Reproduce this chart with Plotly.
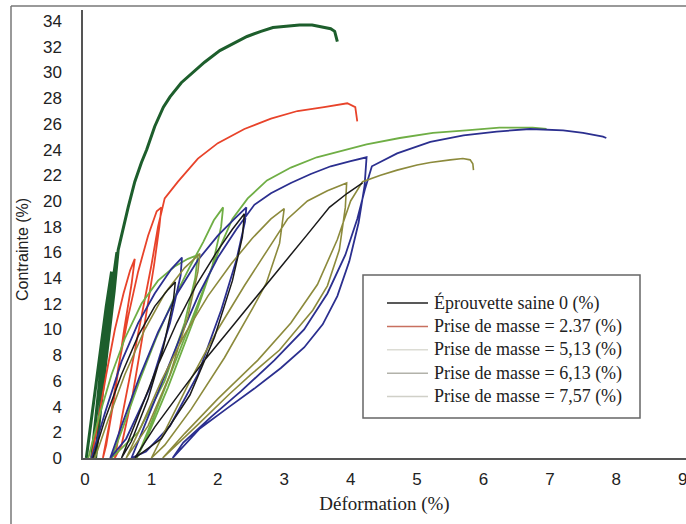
import plotly.graph_objects as go

# ---------------- data ----------------
legend_names = [
    "Éprouvette saine 0 (%)",
    "Prise de masse = 2.37 (%)",
    "Prise de masse = 5,13 (%)",
    "Prise de masse = 6,13 (%)",
    "Prise de masse = 7,57 (%)",
]
legend_colors = ["#222222", "#c8705f", "#dcdcd4", "#b2b2aa", "#d0d0c8"]

x_ticks = [0, 1, 2, 3, 4, 5, 6, 7, 8, 9]
y_ticks = [0, 2, 4, 6, 8, 10, 12, 14, 16, 18, 20, 22, 24, 26, 28, 30, 32, 34]

# dark green curve
g0_x = [0.02, 0.12, 0.22, 0.32, 0.40, 0.36, 0.28, 0.19, 0.10,
        0.16, 0.24, 0.33, 0.42, 0.48, 0.42, 0.34, 0.25, 0.16,
        0.21, 0.28, 0.36, 0.44, 0.50, 0.57, 0.65, 0.75, 0.85, 0.93, 1.05, 1.18,
        1.28, 1.45, 1.62, 1.80, 2.03, 2.25, 2.44, 2.65, 2.83, 3.03, 3.23, 3.42,
        3.58, 3.70, 3.76, 3.80]
g0_y = [0, 4, 8, 11.8, 14.5, 12, 8.5, 4.5, 0,
        3, 7, 10.5, 13.8, 16, 13, 9.5, 5, 0,
        2.5, 6, 9.5, 13, 16.2, 17.8, 19.5, 21.5, 23, 24, 25.8, 27.3,
        28.1, 29.2, 30, 30.8, 31.7, 32.3, 32.8, 33.2, 33.5, 33.6, 33.7, 33.7,
        33.5, 33.4, 33.2, 32.4]

# red curve (2.37 %)
r_x = [0.10, 0.20, 0.32, 0.45, 0.58, 0.68, 0.75, 0.70, 0.59, 0.45, 0.32, 0.27,
       0.38, 0.50, 0.65, 0.80, 0.95, 1.08, 1.15, 1.12, 1.04, 0.90, 0.72, 0.55, 0.45,
       0.55, 0.70, 0.86, 1.00, 1.10, 1.20, 1.40, 1.70, 2.00, 2.40, 2.80, 3.20, 3.60,
       3.95, 4.07, 4.10]
r_y = [0, 3, 6.5, 10, 12.8, 14.6, 15.5, 13.5, 10, 5, 1, 0,
       3, 7, 11, 14.5, 17.3, 19.2, 19.5, 18, 15, 10.5, 5, 1, 0,
       3, 7, 11.5, 15, 18, 20.2, 21.5, 23.3, 24.5, 25.6, 26.4, 27.0, 27.3,
       27.6, 27.3, 26.2]

# light green curve (5,13 %)
lg_x = [0.05, 0.20, 0.40, 0.60, 0.85, 1.10, 1.35, 1.55, 1.70,
        1.66, 1.50, 1.20, 0.80, 0.40,
        0.58, 0.82, 1.07, 1.32, 1.57, 1.78, 1.94, 2.08,
        2.05, 1.92, 1.62, 1.25, 0.95, 0.78,
        0.98, 1.25, 1.55, 1.85, 2.05, 2.22, 2.45, 2.74, 3.10, 3.49, 3.94, 4.24,
        4.74, 5.24, 5.74, 6.24, 6.74, 6.95]
lg_y = [0, 3, 6.5, 9.3, 12, 13.8, 14.9, 15.5, 15.8,
        14, 10.5, 6, 2, 0,
        2.5, 6, 9.3, 12.2, 14.8, 16.8, 18.5, 19.5,
        18, 15, 10.5, 5.5, 1.8, 0,
        2.5, 6, 10, 14, 16.6, 18.6, 20.2, 21.6, 22.6, 23.4, 24.0, 24.4,
        24.9, 25.3, 25.5, 25.7, 25.7, 25.6]

# blue curve (6,13 %)
b_x = [0.10, 0.30, 0.55, 0.80, 1.05, 1.30, 1.46,
       1.44, 1.28, 0.98, 0.62, 0.38,
       0.55, 0.82, 1.10, 1.40, 1.70, 2.00, 2.25, 2.43,
       2.41, 2.28, 2.05, 1.70, 1.28, 0.92, 0.70,
       0.90, 1.18, 1.45, 1.72, 2.00, 2.28, 2.55, 2.80, 3.10, 3.40, 3.70, 4.00, 4.24,
       4.21, 4.12, 3.98, 3.80, 3.58, 3.30, 2.95, 2.55, 2.15, 1.73, 1.32,
       1.48, 1.90, 2.35, 2.85, 3.30, 3.65, 3.92, 4.10, 4.22, 4.32, 4.70, 5.20, 5.70,
       6.20, 6.70, 7.20, 7.50, 7.80, 7.85]
b_y = [0, 3.5, 7.5, 10.5, 12.8, 14.7, 15.6,
       14.2, 10.5, 5.5, 1.5, 0,
       2.5, 6.3, 9.8, 12.9, 15.4, 17.3, 18.6, 19.5,
       18.4, 15.4, 11.5, 6.5, 2.5, 0.5, 0,
       2.6, 6.2, 9.6, 12.8, 15.6, 17.8, 19.7, 20.6, 21.4, 22.1, 22.7, 23.1, 23.4,
       21.2, 18.3, 15.3, 12.6, 10.4, 8.6, 7.0, 5.4, 3.9, 2.3, 0,
       1.2, 3.2, 5.2, 7.6, 10.0, 12.8, 15.8, 18.6, 21.0, 22.7, 23.7, 24.6, 25.1,
       25.4, 25.6, 25.5, 25.3, 25.0, 24.9]

# olive curve (7,57 %)
o_x = [0.15, 0.35, 0.60, 0.90, 1.20, 1.50, 1.73,
       1.70, 1.55, 1.28, 0.95, 0.62,
       0.85, 1.15, 1.50, 1.85, 2.20, 2.52, 2.80, 3.00,
       2.93, 2.73, 2.53, 2.10, 1.60, 1.20, 1.00,
       1.25, 1.60, 2.00, 2.40, 2.75, 3.05, 3.35, 3.65, 3.94,
       3.92, 3.83, 3.65, 3.43, 2.93, 2.50, 2.18, 1.70, 1.17,
       1.50, 2.00, 2.60, 3.10, 3.50, 3.80, 4.00, 4.18, 4.45, 4.70, 5.00,
       5.20, 5.50, 5.69, 5.80, 5.84, 5.85]
o_y = [0, 3, 6.5, 10, 12.8, 14.8, 15.9,
       14.5, 11, 6.5, 2.5, 0,
       2.5, 6, 9.6, 12.6, 15.1, 17.1, 18.6, 19.4,
       16.7, 13.6, 11.7, 7.8, 3.8, 1.0, 0,
       2.6, 6.2, 10, 13.4, 16.2, 18.6, 20.0, 20.8, 21.4,
       19.5, 16.2, 13.4, 11.5, 8.4, 6.5, 5.0, 2.6, 0,
       1.9, 4.6, 7.6, 10.5, 13.5, 17.0, 20.0, 21.5, 22.0, 22.4, 22.8,
       23.0, 23.2, 23.3, 23.2, 22.9, 22.4]

# black curve
k_x = [0.12, 0.30, 0.55, 0.80, 1.05, 1.25, 1.36,
       1.33, 1.18, 0.95, 0.70, 0.55,
       0.78, 1.08, 1.38, 1.68, 1.98, 2.22, 2.40,
       2.37, 2.22, 1.95, 1.58, 1.15, 0.75,
       1.05, 1.45, 1.80, 2.18, 2.60, 3.00, 3.35, 3.68, 3.95, 4.18]
k_y = [0, 3, 6.5, 9.5, 11.8, 13.1, 13.7,
       12.2, 8.6, 4.6, 1.3, 0,
       3, 7, 10.5, 13.5, 16, 17.8, 19.0,
       17.2, 13.8, 9.4, 4.9, 1.5, 0,
       2.4, 5.2, 7.6, 10.0, 12.7, 15.2, 17.4, 19.5, 20.6, 21.4]

# ---------------- figure ----------------
W, H = 686, 524
L, R, T, B = 83, 0, 10, 66
pw, ph = W - L - R, H - T - B


def px_x(p):
    return (p - L) / pw


def px_y(p):
    return (H - B - p) / ph


fig = go.Figure()

curves = [
    (g0_x, g0_y, "#1d5e2c", 3.0),
    (r_x, r_y, "#e8432a", 1.8),
    (lg_x, lg_y, "#6fae45", 1.8),
    (b_x, b_y, "#2b2f8f", 1.8),
    (o_x, o_y, "#8c8a3c", 1.6),
    (k_x, k_y, "#1a1a1a", 1.5),
]
for xs, ys, col, w in curves:
    fig.add_trace(go.Scatter(x=xs, y=ys, mode="lines", showlegend=False,
                             line=dict(color=col, width=w), hoverinfo="skip"))

serif = "Liberation Serif, Times New Roman, serif"
sans = "Liberation Sans, Arial, sans-serif"

shapes = [
    # legend box
    dict(type="rect", xref="paper", yref="paper",
         x0=px_x(363), x1=px_x(640), y0=px_y(418), y1=px_y(275),
         line=dict(color="#666", width=1.5), fillcolor="rgba(0,0,0,0)"),
    # scan frame lines
    dict(type="line", xref="paper", yref="paper",
         x0=px_x(11), x1=px_x(686), y0=px_y(6), y1=px_y(6),
         line=dict(color="#777", width=1.5)),
    dict(type="line", xref="paper", yref="paper",
         x0=px_x(11), x1=px_x(11), y0=px_y(6), y1=px_y(524),
         line=dict(color="#777", width=1.5)),
]
annotations = [
    dict(text="Contrainte (%)", xref="paper", yref="paper",
         x=px_x(22), y=px_y(250), xanchor="center", yanchor="middle",
         textangle=-90, showarrow=False,
         font=dict(family=sans, size=16, color="#222")),
]

# legend entries (line sample + label)
leg_y0, leg_dy = 303, 23.4
for i, (name, col) in enumerate(zip(legend_names, legend_colors)):
    yy = px_y(leg_y0 + i * leg_dy)
    shapes.append(dict(type="line", xref="paper", yref="paper",
                       x0=px_x(387), x1=px_x(428), y0=yy, y1=yy,
                       line=dict(color=col, width=1.5)))
    annotations.append(dict(text=name, xref="paper", yref="paper",
                            x=px_x(432), y=yy, xanchor="left", yanchor="middle",
                            showarrow=False,
                            font=dict(family=serif, size=18, color="#222")))

fig.update_layout(
    width=W, height=H,
    margin=dict(l=L, r=R, t=T, b=B, pad=0),
    paper_bgcolor="white", plot_bgcolor="white",
    showlegend=False,
    xaxis=dict(
        range=[-0.03, 9.05], tickvals=x_ticks, ticktext=[str(v) for v in x_ticks],
        showgrid=False, zeroline=False, showline=True, linecolor="#555", linewidth=2,
        ticks="", ticklabelstandoff=5, ticklabeloverflow="allow",
        tickfont=dict(family=sans, size=17, color="#222"),
        title=dict(text="Déformation (%)", standoff=8,
                   font=dict(family=serif, size=19, color="#222")),
    ),
    yaxis=dict(
        range=[0, 34.86], tickvals=y_ticks, ticktext=[str(v) for v in y_ticks],
        showgrid=False, zeroline=False, showline=True, linecolor="#555", linewidth=1.5,
        ticks="", ticklabelstandoff=16,
        tickfont=dict(family=sans, size=17, color="#222"),
    ),
    shapes=shapes,
    annotations=annotations,
)

fig.write_html("out.html")
